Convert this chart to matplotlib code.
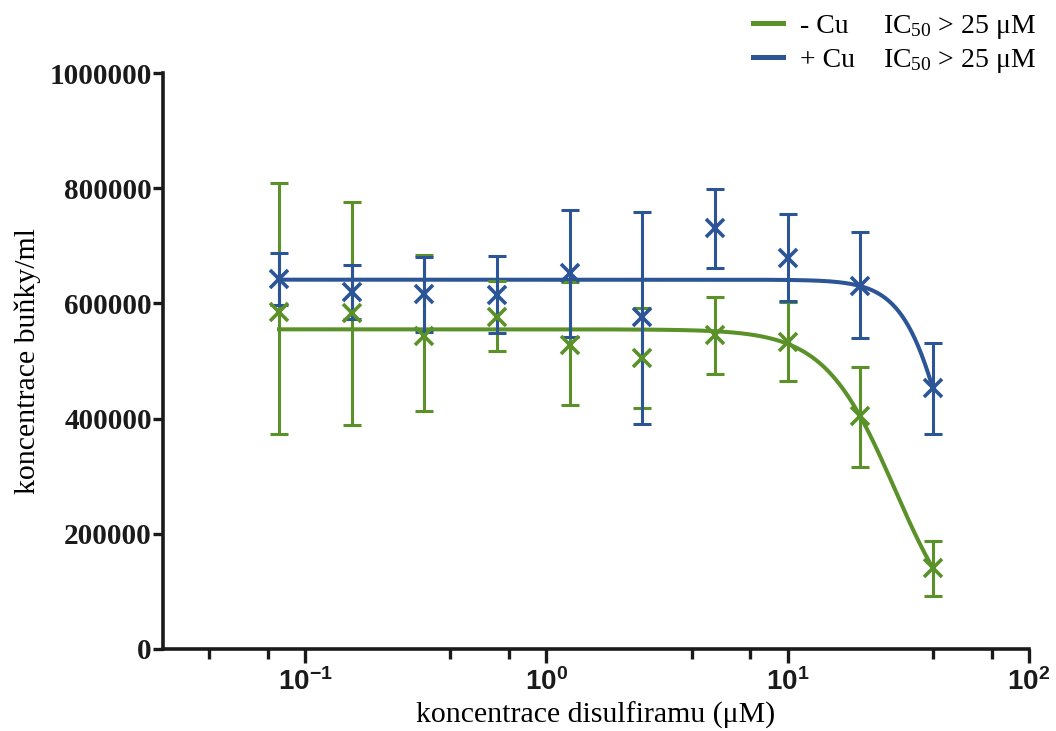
import numpy as np
import matplotlib
matplotlib.use('Agg')
import matplotlib.pyplot as plt
from matplotlib.ticker import LogLocator, FuncFormatter, FixedLocator
from matplotlib.lines import Line2D

plt.rcParams['mathtext.fontset'] = 'custom'
plt.rcParams['mathtext.rm'] = 'Liberation Serif'
plt.rcParams['mathtext.it'] = 'Liberation Serif:italic'
plt.rcParams['mathtext.bf'] = 'Liberation Sans:bold'

# ---------------- data ----------------
conc = [0.078, 0.156, 0.3125, 0.625, 1.25, 2.5, 5, 10, 20, 40]

minus_cu_mean = [585600, 582800, 543400, 577000, 527800, 504600, 545100, 533600, 404500, 141200]
minus_cu_hi = [808500, 775500, 684000, 638900, 637700, 591400, 611700, 603000, 490100, 187500]
minus_cu_lo = [372700, 388400, 412600, 516800, 423000, 419000, 476800, 464700, 315400, 92000]

plus_cu_mean = [641800, 619300, 615800, 614600, 652200, 577000, 730300, 679400, 630200, 452600]
plus_cu_hi = [687000, 666100, 681100, 682800, 761600, 759300, 798000, 755200, 723400, 530700]
plus_cu_lo = [596700, 573400, 549800, 548100, 542200, 390000, 660900, 603600, 539400, 372700]

# fitted curve parameters (top, IC50, hill slope)
minus_cu_fit = (555000, 27.8, 2.98)
plus_cu_fit = (641200, 48.4, 4.57)

series_names = ['- Cu', '+ Cu']
ic50_labels = ['IC$_{50}$ > 25 μM', 'IC$_{50}$ > 25 μM']

green = '#5a9128'
blue = '#2b5597'

W, H = 1056, 731

# ---------------- figure ----------------
fig = plt.figure(figsize=(W / 100, H / 100), dpi=100)
ax = fig.add_axes([0.1544, 0.1122, 0.82, 0.7879])

xs = np.logspace(np.log10(conc[0]), np.log10(conc[-1]), 400)
for mean, hi, lo, fit, col in [(minus_cu_mean, minus_cu_hi, minus_cu_lo, minus_cu_fit, green),
                               (plus_cu_mean, plus_cu_hi, plus_cu_lo, plus_cu_fit, blue)]:
    mean = np.array(mean)
    yerr = [mean - np.array(lo), np.array(hi) - mean]
    ax.errorbar(conc, mean, yerr=yerr, fmt='none', ecolor=col, elinewidth=2.2,
                capsize=6.5, capthick=2.2, zorder=3)
    ax.plot(conc, mean, 'x', color=col, markersize=13, mew=2.6, zorder=4)
    top, ic50, hill = fit
    ax.plot(xs, top / (1 + (xs / ic50) ** hill), color=col, lw=2.9, zorder=2)

ax.set_xscale('log')
ax.set_xlim(0.0258, 100)
ax.set_ylim(0, 1000000)

# axes styling
for s in ['top', 'right']:
    ax.spines[s].set_visible(False)
for s in ['left', 'bottom']:
    ax.spines[s].set_linewidth(2.6)
    ax.spines[s].set_color('#1a1a1a')

ax.set_yticks([0, 200000, 400000, 600000, 800000, 1000000])
ax.set_yticklabels(['0', '200000', '400000', '600000', '800000', '1000000'],
                   fontfamily='Liberation Serif', fontweight='bold', fontsize=21)
ax.tick_params(axis='y', direction='out', length=7, width=2.4, pad=1, colors='#1a1a1a')

ax.xaxis.set_major_locator(FixedLocator([0.1, 1, 10, 100]))
ax.xaxis.set_major_formatter(FuncFormatter(lambda v, p: r'$\mathbf{10^{%d}}$' % round(np.log10(v))))
ax.xaxis.set_minor_locator(LogLocator(base=10, subs=(4, 7)))
ax.xaxis.set_minor_formatter(FuncFormatter(lambda v, p: ''))
ax.tick_params(axis='x', which='major', direction='out', length=10, width=2.4, pad=4,
               labelsize=20, colors='#1a1a1a')
ax.tick_params(axis='x', which='minor', direction='out', length=7, width=2.4, colors='#1a1a1a')

ax.set_xlabel('koncentrace disulfiramu (μM)', fontfamily='Liberation Serif', fontsize=21.5, labelpad=4)
ax.set_ylabel('koncentrace buňky/ml', fontfamily='Liberation Serif', fontsize=21.5, labelpad=6)

# legend drawn by hand so the IC50 column lines up
for i, (name, ic, col) in enumerate(zip(series_names, ic50_labels, [green, blue])):
    yc = 23 + 34 * i          # row centre, pixels from top
    ybase = 1 - (yc + 10) / H  # text baseline
    fig.add_artist(Line2D([753 / W, 783 / W], [1 - yc / H] * 2, color=col, lw=3.6,
                          transform=fig.transFigure))
    fig.text(800 / W, ybase, name, fontfamily='Liberation Serif', fontsize=20,
             va='baseline', ha='left')
    fig.text(883 / W, ybase, ic, fontfamily='Liberation Serif', fontsize=20,
             va='baseline', ha='left')

fig.savefig('out.png', dpi=100)
